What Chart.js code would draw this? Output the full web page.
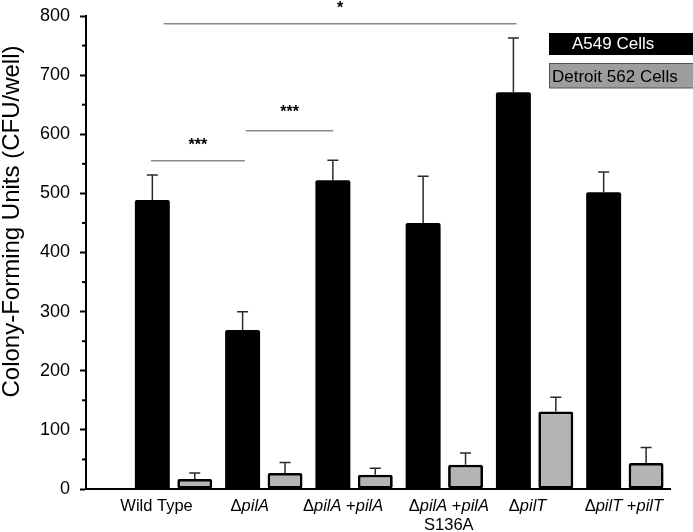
<!DOCTYPE html>
<html>
<head>
<meta charset="utf-8">
<script src="https://cdn.jsdelivr.net/npm/chart.js@4/dist/chart.umd.min.js"></script>
<style>
  html, body { margin: 0; padding: 0; background: #fff; }
  #wrap { width: 693px; height: 532px; }
</style>
</head>
<body>
<div id="wrap"><canvas id="cfu_chart"></canvas></div>
<script>
// カテゴリ(横軸)
const categories = ['Wild Type', 'ΔpilA', 'ΔpilA +pilA', 'ΔpilA +pilA\nS136A', 'ΔpilT', 'ΔpilT +pilT'];
// 系列名
const series_names = ['A549 Cells', 'Detroit 562 Cells'];
// A549 細胞の値と誤差
const a549_values = [489, 269, 522, 450, 671, 502];
const a549_errors = [42, 31, 34, 79, 92, 34];
// Detroit 562 細胞の値と誤差
const detroit_values = [17, 27, 24, 41, 131, 44];
const detroit_errors = [10, 18, 11, 20, 24, 26];
// 縦軸の目盛り
const y_ticks = [0, 100, 200, 300, 400, 500, 600, 700, 800];
const y_minor_ticks = [50, 150, 250, 350, 450, 550, 650, 750];
// 有意差の線 (横はカテゴリ位置、縦は値)
const sig_from = [-0.25, 0.80, -0.11];
const sig_to = [0.79, 1.77, 3.80];
const sig_level = [555, 606, 787];
const sig_marks = ['***', '***', '*'];
const sig_mark_level = [589, 644, 820];

const FONT = "'Liberation Sans', Arial, sans-serif";

// 遺伝子名だけ斜体で描画
function draw_rich(ctx, text, cx, y, size) {
    const parts = text.split(/(pil[A-Z])/).filter(p => p.length);
    const fonts = parts.map(p => (/^pil[A-Z]$/.test(p) ? 'italic ' : '') + size + 'px ' + FONT);
    let total = 0;
    const widths = parts.map((p, i) => { ctx.font = fonts[i]; const w = ctx.measureText(p).width; total += w; return w; });
    let x = cx - total / 2;
    ctx.textAlign = 'left';
    parts.forEach((p, i) => {
        ctx.font = fonts[i];
        ctx.fillText(p, x, y);
        x += widths[i];
    });
}

// 注釈・誤差棒・凡例などの描画プラグイン
const extras_plugin = {
    id: 'extras',
    afterDatasetsDraw(chart) {
        const ctx = chart.ctx;
        const xs = chart.scales.x;
        const ys = chart.scales.y;
        ctx.save();
        // 誤差棒
        const errs = [a549_errors, detroit_errors];
        chart.data.datasets.forEach((ds, di) => {
            const meta = chart.getDatasetMeta(di);
            meta.data.forEach((bar, i) => {
                const top = ys.getPixelForValue(ds.data[i].y);
                const end = ys.getPixelForValue(ds.data[i].y + errs[di][i]);
                ctx.strokeStyle = '#2a2a2a';
                ctx.lineWidth = 1.5;
                ctx.beginPath();
                ctx.moveTo(bar.x, top);
                ctx.lineTo(bar.x, end);
                ctx.moveTo(bar.x - 5.5, end);
                ctx.lineTo(bar.x + 5.5, end);
                ctx.stroke();
            });
        });
        // 副目盛り
        ctx.strokeStyle = '#000';
        ctx.lineWidth = 2;
        y_minor_ticks.forEach(v => {
            const py = ys.getPixelForValue(v);
            ctx.beginPath();
            ctx.moveTo(chart.chartArea.left - 4, py);
            ctx.lineTo(chart.chartArea.left, py);
            ctx.stroke();
        });
        // 有意差の線と記号
        sig_from.forEach((f, i) => {
            const x1 = xs.getPixelForValue(f);
            const x2 = xs.getPixelForValue(sig_to[i]);
            const py = ys.getPixelForValue(sig_level[i]);
            ctx.strokeStyle = '#8a8a8a';
            ctx.lineWidth = 1.5;
            ctx.beginPath();
            ctx.moveTo(x1, py);
            ctx.lineTo(x2, py);
            ctx.stroke();
            ctx.fillStyle = '#000';
            ctx.font = 'bold 16px ' + FONT;
            ctx.textAlign = 'center';
            ctx.textBaseline = 'alphabetic';
            ctx.fillText(sig_marks[i], (x1 + x2) / 2, ys.getPixelForValue(sig_mark_level[i]) + 9);
        });
        // 横軸ラベル
        const label_shift = [-17, -14, -11, 4.5, -7, -1];
        ctx.fillStyle = '#000';
        ctx.textBaseline = 'alphabetic';
        categories.forEach((c, i) => {
            const cx = xs.getPixelForValue(i) + label_shift[i];
            c.split('\n').forEach((line, li) => {
                draw_rich(ctx, line, cx, 511 + li * 19, 16.5);
            });
        });
        // 縦軸タイトル
        ctx.save();
        ctx.translate(18.5, 221.5);
        ctx.rotate(-Math.PI / 2);
        ctx.font = '24px ' + FONT;
        ctx.textAlign = 'center';
        ctx.fillText('Colony-Forming Units (CFU/well)', 0, 0);
        ctx.restore();
        // 凡例
        ctx.fillStyle = '#000';
        ctx.fillRect(549, 33, 150, 22);
        ctx.fillStyle = '#fff';
        ctx.font = '17px ' + FONT;
        ctx.textAlign = 'left';
        ctx.fillText(series_names[0], 572, 49);
        ctx.fillStyle = '#9d9d9d';
        ctx.fillRect(549.5, 63.5, 150, 24.5);
        ctx.strokeStyle = '#555';
        ctx.lineWidth = 1;
        ctx.strokeRect(549.5, 63.5, 150, 24.5);
        ctx.fillStyle = '#000';
        ctx.fillText(series_names[1], 552, 82);
        ctx.restore();
    }
};

// グラフを作成
function create_chart() {
    const chart_data = {
        datasets: [
            {
                label: series_names[0],
                data: a549_values.map((v, i) => ({ x: i, y: v })),
                backgroundColor: '#000',
                borderColor: '#000',
                borderWidth: 0,
                borderRadius: 2,
                borderSkipped: 'start'
            },
            {
                label: series_names[1],
                data: detroit_values.map((v, i) => ({ x: i, y: v })),
                backgroundColor: '#b4b4b4',
                borderColor: '#000',
                borderWidth: 2.8,
                borderRadius: 2,
                borderSkipped: false
            }
        ]
    };
    const ctx = document.getElementById('cfu_chart').getContext('2d');
    new Chart(ctx, {
        type: 'bar',
        data: chart_data,
        plugins: [extras_plugin],
        options: {
            responsive: true,
            maintainAspectRatio: false,
            animation: false,
            categoryPercentage: 0.94,
            barPercentage: 0.824,
            layout: { padding: { top: 16, right: 23, left: 0, bottom: 0 } },
            scales: {
                x: {
                    type: 'linear',
                    min: -0.97,
                    max: 5.5,
                    offset: false,
                    afterBuildTicks: (scale) => {
                        scale.ticks = categories.map((c, i) => ({ value: i }));
                    },
                    afterFit: (scale) => {
                        scale.height = 43;
                        scale.paddingLeft = 0;
                        scale.paddingRight = 0;
                    },
                    ticks: { display: false },
                    grid: { display: false },
                    border: { display: true, color: '#000', width: 2, z: 1 }
                },
                y: {
                    min: 0,
                    max: 800,
                    afterBuildTicks: (scale) => {
                        scale.ticks = y_ticks.map(v => ({ value: v }));
                    },
                    afterFit: (scale) => {
                        scale.width = 86;
                        scale.paddingTop = 0;
                        scale.paddingBottom = 0;
                    },
                    ticks: {
                        color: '#000',
                        padding: 10,
                        font: { family: FONT, size: 18 }
                    },
                    grid: {
                        drawOnChartArea: false,
                        drawTicks: true,
                        tickLength: 6,
                        tickWidth: 2,
                        tickColor: '#000'
                    },
                    border: { display: true, color: '#000', width: 2, z: 1 }
                }
            },
            plugins: {
                legend: { display: false },
                tooltip: { enabled: false }
            }
        }
    });
}

create_chart();
</script>
</body>
</html>
